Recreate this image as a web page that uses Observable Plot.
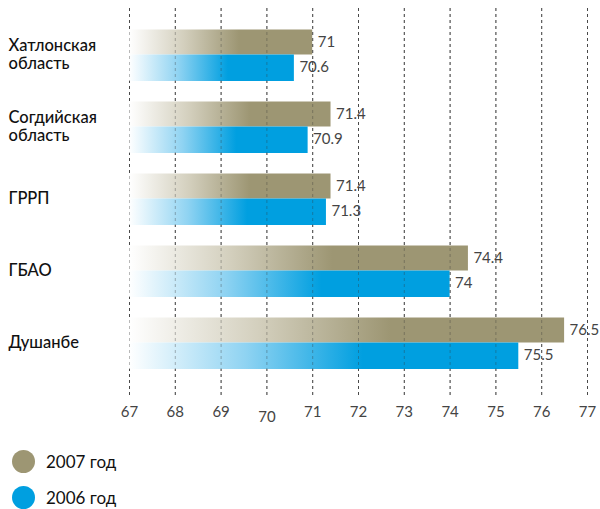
<!DOCTYPE html>
<html>
<head>
<meta charset="utf-8">
<script src="https://cdn.jsdelivr.net/npm/d3@7"></script>
<script src="https://cdn.jsdelivr.net/npm/@observablehq/plot@0.6"></script>
<style>
  body { margin: 0; background: #fff; font-family: Lato, "Noto Sans", sans-serif; }
  .legend-row { display: flex; align-items: center; height: 24px; margin-left: 12px; font-size: 17px; color: #111; }
  .legend-row span.dot { width: 23px; height: 23px; border-radius: 50%; display: inline-block; margin-right: 11px; }
</style>
</head>
<body>
<div id="chart"></div>
<div id="legend"></div>
<script>
const categories = ["Хатлонская\nобласть", "Согдийская\nобласть", "ГРРП", "ГБАО", "Душанбе"];
const values2007 = [71, 71.4, 71.4, 74.4, 76.5];
const values2006 = [70.6, 70.9, 71.3, 74, 75.5];
const xTicks = [67, 68, 69, 70, 71, 72, 73, 74, 75, 76, 77];
const seriesNames = ["2007 год", "2006 год"];
const seriesColors = ["#9d9673", "#009fe0"];
const xMin = 67;

const d07 = categories.map((c, i) => ({cat: c, v: values2007[i]}));
const d06 = categories.map((c, i) => ({cat: c, v: values2006[i]}));

const fmt = v => String(v);

const plot = Plot.plot({
  width: 600,
  height: 430,
  marginLeft: 129,
  marginRight: 13,
  marginTop: 8,
  marginBottom: 35,
  style: {fontFamily: "Lato, 'Noto Sans', sans-serif", fontSize: "15px", color: "#444", background: "#fff"},
  x: {domain: [67, 77], axis: null, label: null},
  y: {domain: categories, paddingInner: 0, paddingOuter: 0.1875, align: 0.389, axis: null, label: null},
  marks: [
    Plot.ruleX(xTicks, {x: d => d, stroke: "#555", strokeDasharray: "3,3", strokeWidth: 1}),
    Plot.barX(d07, {x1: xMin, x2: "v", y: "cat", fill: "url(#g2007)", insetTop: 10.5, insetBottom: 36.5}),
    Plot.barX(d06, {x1: xMin, x2: "v", y: "cat", fill: "url(#g2006)", insetTop: 35.5, insetBottom: 10}),
    Plot.ruleX(xTicks, {x: d => d, stroke: "#333", strokeOpacity: 0.35, strokeDasharray: "3,3", strokeWidth: 1}),
    Plot.text(d07, {x: "v", y: "cat", text: d => fmt(d.v), dx: 5, dy: -13, textAnchor: "start", fill: "#444", fontSize: 15}),
    Plot.text(d06, {x: "v", y: "cat", text: d => fmt(d.v), dx: 5, dy: 12, textAnchor: "start", fill: "#444", fontSize: 15}),
    Plot.text(categories, {y: d => d, text: d => d, frameAnchor: "left", dx: -121, dy: -1, textAnchor: "start", fill: "#111", fontSize: 16.5, fontWeight: 500, lineHeight: 1.08}),
    Plot.axisX(xTicks.filter(t => t !== 70), {tickSize: 0, tickPadding: 11, fontSize: 15, fill: "#444", anchor: "bottom", label: null}),
    Plot.axisX([70], {tickSize: 0, tickPadding: 16, fontSize: 15, fill: "#444", anchor: "bottom", label: null})
  ]
});

const defs = d3.select(plot).insert("defs", ":first-child");
function grad(id, color, mid) {
  const g = defs.append("linearGradient").attr("id", id).attr("x1", "0").attr("x2", "1").attr("y1", "0").attr("y2", "0");
  g.append("stop").attr("offset", "0").attr("stop-color", "#ffffff");
  g.append("stop").attr("offset", "0.3").attr("stop-color", mid);
  g.append("stop").attr("offset", "0.6").attr("stop-color", color);
  g.append("stop").attr("offset", "1").attr("stop-color", color);
}
grad("g2007", seriesColors[0], "#d3cfbd");
grad("g2006", seriesColors[1], "#8fd3f2");

document.getElementById("chart").appendChild(plot);

const legend = document.getElementById("legend");
legend.style.marginTop = "19px";
seriesNames.forEach((name, i) => {
  const row = document.createElement("div");
  row.className = "legend-row";
  if (i > 0) row.style.marginTop = "12px";
  const dot = document.createElement("span");
  dot.className = "dot";
  dot.style.background = seriesColors[i];
  row.appendChild(dot);
  row.appendChild(document.createTextNode(name));
  legend.appendChild(row);
});
</script>
</body>
</html>
